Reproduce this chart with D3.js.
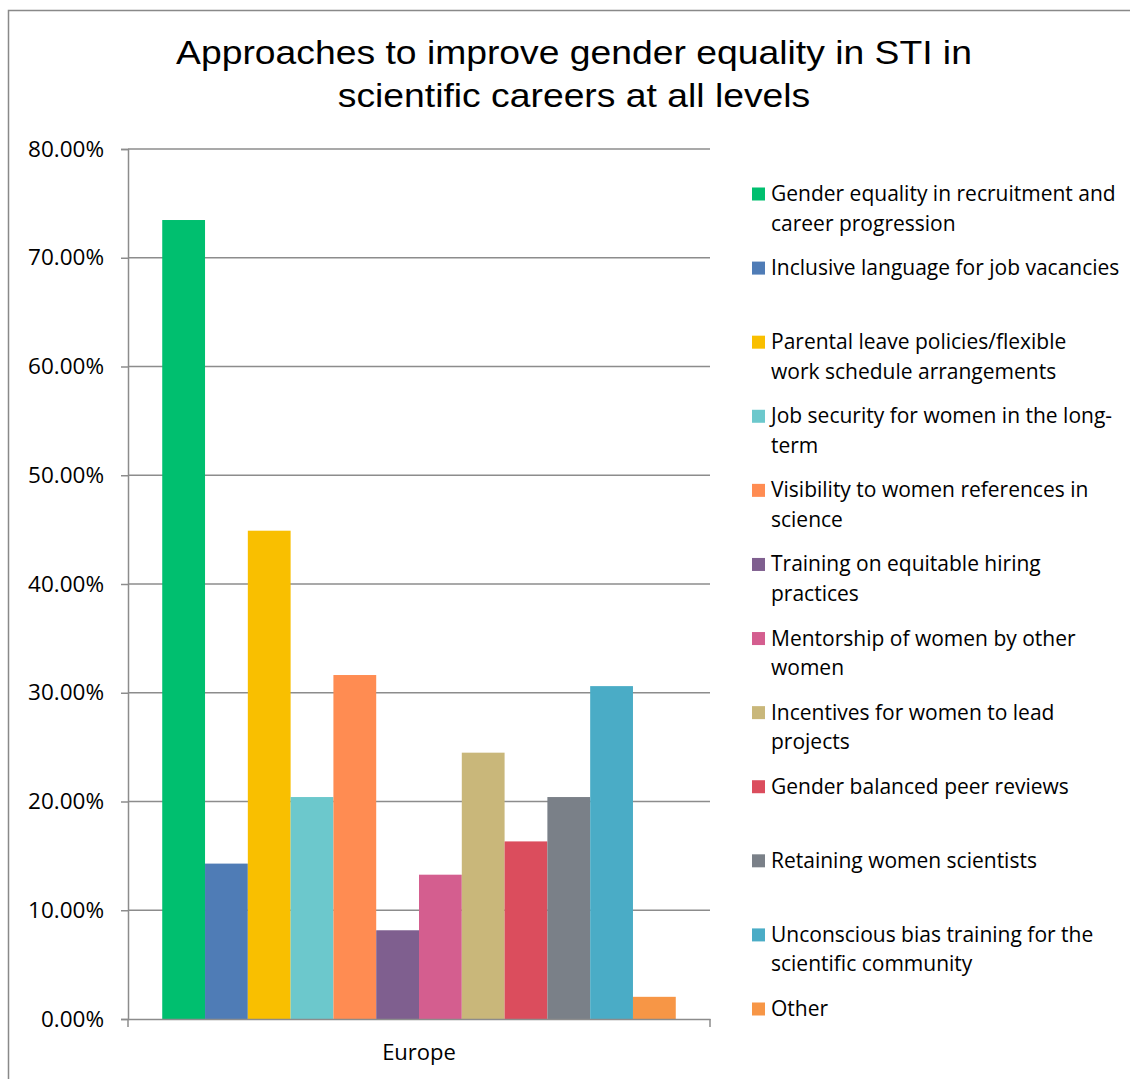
<!DOCTYPE html>
<html>
<head>
<meta charset="utf-8" />
<title>Approaches to improve gender equality in STI</title>
<script src="https://d3js.org/d3.v7.min.js"></script>
<style>
  body { margin: 0; background: #fff; }
  .tick-label { font-family: "Open Sans", Lato, sans-serif; fill: #000; }
  .legend-text { font-family: "Open Sans", Lato, sans-serif; fill: #000; }
</style>
</head>
<body>
<script>
// data
var categories = ["Europe"];
var series = [
  "Gender equality in recruitment and career progression",
  "Inclusive language for job vacancies",
  "Parental leave policies/flexible work schedule arrangements",
  "Job security for women in the long-term",
  "Visibility to women references in science",
  "Training on equitable hiring practices",
  "Mentorship of women by other women",
  "Incentives for women to lead projects",
  "Gender balanced peer reviews",
  "Retaining women scientists",
  "Unconscious bias training for the scientific community",
  "Other"
];
// legend lines as wrapped in the picture
var legendLines = [
  ["Gender equality in recruitment and", "career progression"],
  ["Inclusive language for job vacancies"],
  ["Parental leave policies/flexible", "work schedule arrangements"],
  ["Job security for women in the long-", "term"],
  ["Visibility to women references in", "science"],
  ["Training on equitable hiring", "practices"],
  ["Mentorship of women by other", "women"],
  ["Incentives for women to lead", "projects"],
  ["Gender balanced peer reviews"],
  ["Retaining women scientists"],
  ["Unconscious bias training for the", "scientific community"],
  ["Other"]
];
var europeValues = [0.7347, 0.1429, 0.4490, 0.2041, 0.3163, 0.0816, 0.1327, 0.2449, 0.1633, 0.2041, 0.3061, 0.0204];
var colors = ["#00bf6f", "#4f7cb6", "#f9bf00", "#6cc8cc", "#ff8c52", "#7f5f8f",
              "#d45e8f", "#c9b77a", "#db4d5d", "#7a8088", "#4aacc6", "#f79646"];
var yTicks = [0, 0.1, 0.2, 0.3, 0.4, 0.5, 0.6, 0.7, 0.8];

var W = 1130, H = 1079;
var svg = d3.select("body").append("svg")
  .attr("width", W).attr("height", H);

// outer chart frame
svg.append("rect")
  .attr("x", 8.5).attr("y", 10.5)
  .attr("width", 1130).attr("height", 1100)
  .attr("fill", "none").attr("stroke", "#898989").attr("stroke-width", 1.5);

// title (slightly stretched horizontally like the original)
var title = svg.append("g")
  .attr("transform", "translate(574,0) scale(1.097,1)")
  .append("text")
  .attr("text-anchor", "middle")
  .attr("font-family", "'Liberation Sans', Arial, sans-serif")
  .attr("font-size", 34)
  .attr("fill", "#000");
title.append("tspan").attr("x", 0).attr("y", 64).text("Approaches to improve gender equality in STI in");
title.append("tspan").attr("x", 0).attr("y", 107).text("scientific careers at all levels");

// scales
var plotLeft = 128, plotRight = 710, plotTop = 149, plotBottom = 1019;
var x0 = d3.scaleBand().domain(categories).range([plotLeft, plotRight]);
var x1 = d3.scaleBand().domain(series).range([0, x0.bandwidth()])
  .paddingInner(0).paddingOuter(0.8);
var y = d3.scaleLinear().domain([0, 0.8]).range([plotBottom, plotTop]);

// gridlines
svg.append("g").selectAll("line").data(yTicks.filter(function(d) { return d > 0; }))
  .enter().append("line")
  .attr("x1", plotLeft).attr("x2", plotRight)
  .attr("y1", function(d) { return y(d); }).attr("y2", function(d) { return y(d); })
  .attr("stroke", "#8c8c8c").attr("stroke-width", 1.5);

// y axis
var yAxis = svg.append("g")
  .attr("transform", "translate(" + plotLeft + ",0)")
  .call(d3.axisLeft(y).tickValues(yTicks).tickFormat(d3.format(".2%")).tickSize(7).tickPadding(17));
yAxis.select(".domain").attr("stroke", "#8c8c8c").attr("stroke-width", 1.5);
yAxis.selectAll(".tick line").attr("stroke", "#8c8c8c").attr("stroke-width", 1.5);
yAxis.selectAll(".tick text").attr("class", "tick-label").attr("font-size", 22.5);

// bars
svg.append("g").selectAll("g").data(categories).enter().append("g")
  .attr("transform", function(c) { return "translate(" + x0(c) + ",0)"; })
  .selectAll("rect")
  .data(function() { return series.map(function(s, i) { return { key: s, value: europeValues[i], color: colors[i] }; }); })
  .enter().append("rect")
  .attr("x", function(d) { return x1(d.key); })
  .attr("width", x1.bandwidth())
  .attr("y", function(d) { return y(d.value); })
  .attr("height", function(d) { return plotBottom - y(d.value); })
  .attr("fill", function(d) { return d.color; });

// x axis
var xAxis = svg.append("g")
  .attr("transform", "translate(0," + plotBottom + ")")
  .call(d3.axisBottom(x0).tickSize(0).tickPadding(25));
xAxis.select(".domain").attr("stroke", "#8c8c8c").attr("stroke-width", 1.5);
xAxis.selectAll(".tick text").attr("class", "tick-label").attr("font-size", 22);
// end ticks of the category axis
xAxis.selectAll(".edge").data(x0.range()).enter().append("line")
  .attr("x1", function(d) { return d; }).attr("x2", function(d) { return d; })
  .attr("y1", 0).attr("y2", 8)
  .attr("stroke", "#8c8c8c").attr("stroke-width", 1.5);

// legend
var legendY = d3.scalePoint().domain(series).range([194, 1009]);
var leg = svg.append("g").selectAll("g").data(series).enter().append("g")
  .attr("transform", function(s) { return "translate(752," + legendY(s) + ")"; });
leg.append("rect")
  .attr("x", 0).attr("y", -6.5).attr("width", 13).attr("height", 13)
  .attr("fill", function(s, i) { return colors[i]; });
leg.append("text")
  .attr("class", "legend-text")
  .attr("font-size", 21)
  .selectAll("tspan")
  .data(function(s, i) { return legendLines[i]; })
  .enter().append("tspan")
  .attr("x", 19)
  .attr("y", function(d, j) { return j * 29.5 + 7; })
  .text(function(d) { return d; });
</script>
</body>
</html>
